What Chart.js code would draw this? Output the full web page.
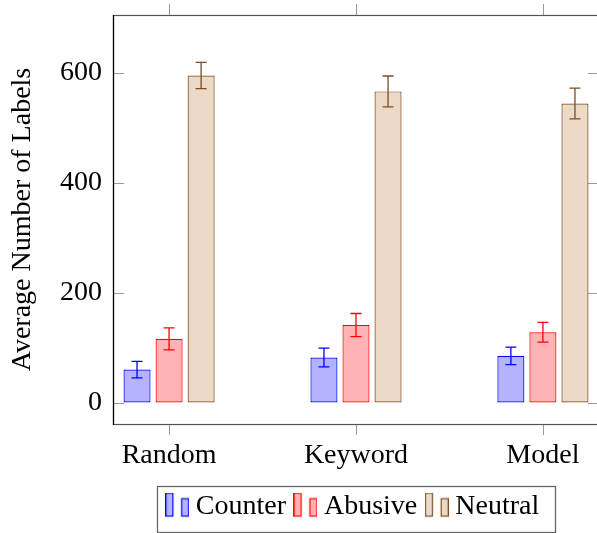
<!DOCTYPE html>
<html><head><meta charset="utf-8">
<script src="https://cdn.jsdelivr.net/npm/chart.js@4"></script>
<style>
html,body{margin:0;padding:0;overflow:hidden;background:#fff;}
#wrap{position:relative;width:600px;height:533px;}
</style></head><body>
<div id="wrap"><canvas id="c" width="600" height="533"></canvas></div>
<script>
const categories = ['Random', 'Keyword', 'Model'];
const seriesNames = ['Counter', 'Abusive', 'Neutral'];
const counterValues = [60, 82, 85];
const counterErrors = [15, 17, 16];
const abusiveValues = [116, 141, 128];
const abusiveErrors = [20, 21, 18];
const neutralValues = [595, 566, 544];
const neutralErrors = [24, 28, 28];
const yTickValues = [0, 200, 400, 600];

const FONT = "'Liberation Serif', 'Times New Roman', serif";
const fills = ['#b3b3ff', '#ffb3b3', '#ecdac6'];
const strokes = ['#0000ff', '#ff0000', '#7d4c22'];

function toPoints(vals) { return vals.map((v, i) => ({ x: i, y: v })); }

function legendIcon(fill, stroke) {
  const c = document.createElement('canvas');
  c.width = 24; c.height = 29;
  const g = c.getContext('2d');
  g.fillStyle = fill; g.strokeStyle = stroke; g.lineWidth = 1.2;
  g.fillRect(0.6, 0.6, 7, 23); g.strokeRect(0.6, 0.6, 7, 23);
  g.fillRect(16.4, 6.2, 7, 17.4); g.strokeRect(16.4, 6.2, 7, 17.4);
  return c;
}
const icons = fills.map((f, i) => legendIcon(f, strokes[i]));

const valueSets = [counterValues, abusiveValues, neutralValues];
const errorSets = [counterErrors, abusiveErrors, neutralErrors];

const datasets = seriesNames.map((name, i) => ({
  label: name,
  data: toPoints(valueSets[i]),
  errors: errorSets[i],
  backgroundColor: fills[i],
  borderColor: strokes[i],
  borderWidth: 1.2,
  borderSkipped: false,
  categoryPercentage: 0.5143,
  barPercentage: 0.8438
}));

const errorBars = {
  id: 'errorBars',
  afterDatasetsDraw(chart) {
    const ctx = chart.ctx, y = chart.scales.y;
    chart.data.datasets.forEach((ds, di) => {
      const meta = chart.getDatasetMeta(di);
      meta.data.forEach((bar, i) => {
        const v = ds.data[i].y, e = ds.errors[i];
        const yt = y.getPixelForValue(v + e), yb = y.getPixelForValue(v - e);
        const x = bar.x;
        ctx.save();
        ctx.strokeStyle = ds.borderColor; ctx.lineWidth = 1.3;
        ctx.beginPath();
        ctx.moveTo(x, yt); ctx.lineTo(x, yb);
        ctx.moveTo(x - 5.5, yt); ctx.lineTo(x + 5.5, yt);
        ctx.moveTo(x - 5.5, yb); ctx.lineTo(x + 5.5, yb);
        ctx.stroke();
        ctx.restore();
      });
    });
  }
};

const frame = {
  id: 'frame',
  beforeDatasetsDraw(chart) {
    const { ctx, chartArea: a, scales: { x, y } } = chart;
    ctx.save();
    ctx.strokeStyle = '#9a9a9a'; ctx.lineWidth = 1;
    ctx.beginPath();
    y.ticks.forEach(t => {
      const p = Math.round(y.getPixelForValue(t.value)) + 0.5;
      ctx.moveTo(a.left, p); ctx.lineTo(a.left + 11, p);
      ctx.moveTo(a.right - 11, p); ctx.lineTo(a.right, p);
    });
    x.ticks.forEach(t => {
      const p = Math.round(x.getPixelForValue(t.value)) + 0.5;
      ctx.moveTo(p, a.top - 11); ctx.lineTo(p, a.top);
      ctx.moveTo(p, a.bottom); ctx.lineTo(p, a.bottom + 11);
    });
    ctx.stroke();
    ctx.restore();
  },
  afterDraw(chart) {
    const { ctx, chartArea: a } = chart;
    ctx.save();
    ctx.strokeStyle = '#555'; ctx.lineWidth = 1.2;
    ctx.strokeRect(a.left + 0.5, a.top + 0.5, a.right - a.left, a.bottom - a.top);
    ctx.strokeStyle = '#000';
    ctx.beginPath(); ctx.moveTo(a.left + 0.5, a.top); ctx.lineTo(a.left + 0.5, a.bottom + 1); ctx.stroke();
    const hb = chart.legend.legendHitBoxes;
    if (hb && hb.length) {
      const last = hb[hb.length - 1];
      const l = hb[0].left - 15.5, r = last.left + last.width + 16.5;
      const t = hb[0].top - 7, b = hb[0].top + 39;
      ctx.strokeStyle = '#666'; ctx.lineWidth = 1.3;
      ctx.strokeRect(Math.round(l) + 0.5, Math.round(t) + 0.5, Math.round(r - l), Math.round(b - t));
    }
    ctx.restore();
  }
};

function noPad(s) { s.paddingTop = 0; s.paddingBottom = 0; s.paddingLeft = 0; s.paddingRight = 0; }

new Chart(document.getElementById('c'), {
  type: 'bar',
  data: { datasets },
  options: {
    responsive: false,
    animation: false,
    layout: { padding: { top: 15, right: 1, bottom: 2, left: 0 } },
    plugins: {
      tooltip: { enabled: false },
      legend: {
        position: 'bottom',
        fullSize: false,
        labels: {
          font: { family: FONT, size: 28 },
          color: '#000',
          usePointStyle: true,
          pointStyleWidth: 9,
          padding: 15,
          generateLabels(chart) {
            return chart.data.datasets.map((ds, i) => ({
              text: ds.label,
              pointStyle: icons[i],
              fillStyle: ds.backgroundColor,
              strokeStyle: ds.borderColor,
              lineWidth: 0,
              hidden: false,
              datasetIndex: i,
              fontColor: '#000'
            }));
          }
        }
      }
    },
    scales: {
      x: {
        type: 'linear',
        min: -0.3, max: 2.3,
        offset: false,
        grid: { display: false, drawTicks: false },
        border: { display: false },
        afterBuildTicks(s) { s.ticks = categories.map((c, i) => ({ value: i })); },
        afterFit(s) { s.height = 54; noPad(s); },
        ticks: {
          autoSkip: false, maxRotation: 0, padding: 15,
          font: { family: FONT, size: 28 }, color: '#000',
          callback: (v) => categories[Math.round(v)]
        }
      },
      y: {
        min: -39, max: 705,
        grid: { display: false, drawTicks: false },
        border: { display: false },
        afterBuildTicks(s) { s.ticks = yTickValues.map(v => ({ value: v })); },
        afterFit(s) { s.width = 113; noPad(s); },
        ticks: { padding: 11, font: { family: FONT, size: 28 }, color: '#000' },
        title: {
          display: true, text: 'Average Number of Labels',
          font: { family: FONT, size: 28 }, color: '#000',
          padding: { top: 6, bottom: 0 }
        }
      }
    }
  },
  plugins: [errorBars, frame]
});
</script>
</body></html>
